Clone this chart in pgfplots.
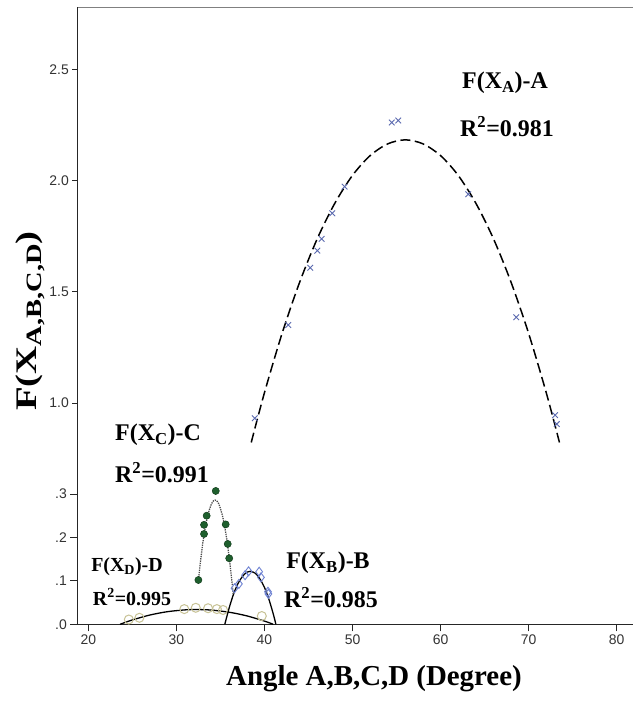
\documentclass[border=0pt]{standalone}
\usepackage{fontspec}
\setmainfont{Liberation Serif}
\newfontfamily\tickfont{Liberation Sans}
\usepackage{pgfplots}
\pgfplotsset{compat=1.18}
\definecolor{Ablue}{RGB}{90,105,175}
\definecolor{Bblue}{RGB}{110,130,210}
\definecolor{Cgreen}{RGB}{30,95,45}
\definecolor{Cdark}{RGB}{10,50,20}
\definecolor{Dkhaki}{RGB}{200,195,150}
\begin{document}
\begin{tikzpicture}
\useasboundingbox (0,0) rectangle (633bp,702bp);
\fill[white] (0,0) rectangle (633bp,702bp);
\pgfplotsset{
  common/.style={
    scale only axis, width=555.7bp, xmin=18.75, xmax=81.85,
    axis line style={-, black!85, line width=0.9pt},
    tick style={black!85, line width=0.9pt},
    tick align=outside,
    major tick length=7bp,
    ticklabel style={font=\tickfont\fontsize{14}{16}\selectfont, text=black!80},
    clip=false,
  }}
% upper axis (series A)
\begin{axis}[common, at={(77.3bp,214bp)}, anchor=south west, height=480.7bp,
  ymin=0.617, ymax=2.782,
  axis x line*=top, axis y line*=left,
  x axis line style={black!50, line width=1.4pt},
  xtick=\empty, ytick={1.0,1.5,2.0,2.5}, yticklabels={1.0,1.5,2.0,2.5},
  major tick length=5bp]
\addplot[only marks, mark=x, mark size=4bp, Ablue, line width=0.9pt] coordinates {
(38.9,0.931) (42.7,1.351) (45.2,1.609) (46.0,1.686) (46.5,1.739) (47.7,1.854)
(49.1,1.974) (54.45,2.263) (55.2,2.272) (63.15,1.940) (68.6,1.386)
(73.0,0.945) (73.2,0.905)};
\addplot[black, line width=1.5pt, dash pattern=on 10bp off 4.5bp, smooth] coordinates {
(38.5,0.822) (40,1.046) (42,1.313) (44,1.544) (46,1.740) (48,1.900) (50,2.025)
(52,2.114) (54,2.167) (56,2.185) (58,2.167) (60,2.114) (62,2.025) (64,1.900)
(66,1.740) (68,1.544) (70,1.313) (72,1.046) (73.5,0.822)};
\end{axis}
% lower axis (series B, C, D)
\begin{axis}[common, at={(77.3bp,77.7bp)}, anchor=south west, height=140.3bp,
  ymin=0, ymax=0.323,
  axis x line*=bottom, axis y line*=left,
  xtick={20,30,40,50,60,70,80}, xticklabels={20,30,40,50,60,70,80},
  ytick={0,0.1,0.2,0.3}, yticklabels={.0,.1,.2,.3}]
% D markers
\addplot[only marks, mark=o, mark size=4.5bp, Dkhaki, line width=1pt] coordinates {
(24.6,0.011) (25.8,0.015) (30.9,0.035) (32.2,0.038) (33.6,0.037) (34.6,0.035)
(35.3,0.033) (39.7,0.019)};
% B markers
\addplot[only marks, mark=diamond, mark size=4.5bp, Bblue, line width=0.9pt] coordinates {
(36.6,0.083) (37.1,0.093) (37.8,0.113) (38.2,0.122) (39.4,0.121) (39.6,0.108)
(40.4,0.075) (40.45,0.070)};
% C markers
\addplot[only marks, mark=*, mark size=3.6bp, draw=Cdark, fill=Cgreen] coordinates {
(32.5,0.102) (33.14,0.208) (33.14,0.229) (33.44,0.250) (34.47,0.307)
(35.6,0.230) (35.83,0.185) (36.0,0.152)};
% D fit
\addplot[black, line width=1.3pt, smooth] coordinates {
(23.6,0) (25,0.010) (27,0.0214) (29,0.0291) (31,0.0332) (32.3,0.034) (34,0.0327)
(36,0.0278) (38,0.0194) (40,0.0074) (41,0)};
% B fit
\addplot[black, line width=1.3pt, smooth] coordinates {
(35.5,0) (36,0.038) (36.5,0.070) (37,0.094) (37.5,0.110) (38,0.120) (38.4,0.122)
(39,0.117) (39.5,0.104) (40,0.085) (40.5,0.058) (41,0.024) (41.3,0)};
% C fit
\addplot[black!70, line width=1.3pt, densely dotted, smooth] coordinates {
(32.5,0.102) (33.0,0.187) (33.5,0.245) (34.0,0.278) (34.4,0.286) (34.8,0.278)
(35.3,0.244) (35.8,0.185) (36.3,0.100) (36.45,0.070)};
\end{axis}
% annotations
\begin{scope}[every node/.style={font=\bfseries\fontsize{24}{28}\selectfont, inner sep=0pt}]
\node at (505bp,619bp) {F(X\textsubscript{A})-A};
\node at (507bp,575bp) {R\textsuperscript{2}=0.981};
\node at (158bp,267bp) {F(X\textsubscript{C})-C};
\node at (162bp,229bp) {R\textsuperscript{2}=0.991};
\node at (328bp,139bp) {F(X\textsubscript{B})-B};
\node at (331bp,104bp) {R\textsuperscript{2}=0.985};
\end{scope}
\begin{scope}[every node/.style={font=\bfseries\fontsize{20}{24}\selectfont, inner sep=0pt}]
\node at (127bp,135bp) {F(X\textsubscript{D})-D};
\node at (132bp,105bp) {R\textsuperscript{2}=0.995};
\end{scope}
\node[font=\bfseries\fontsize{29}{33}\selectfont, inner sep=0pt] at (374bp,23bp) {Angle A,B,C,D (Degree)};
\node[font=\bfseries\fontsize{30}{34}\selectfont, inner sep=0pt, rotate=90, xscale=1.3] at (30bp,381bp) {F(X\raisebox{-5bp}{\fontsize{22}{24}\selectfont A,B,C,D})};
\end{tikzpicture}
\end{document}
